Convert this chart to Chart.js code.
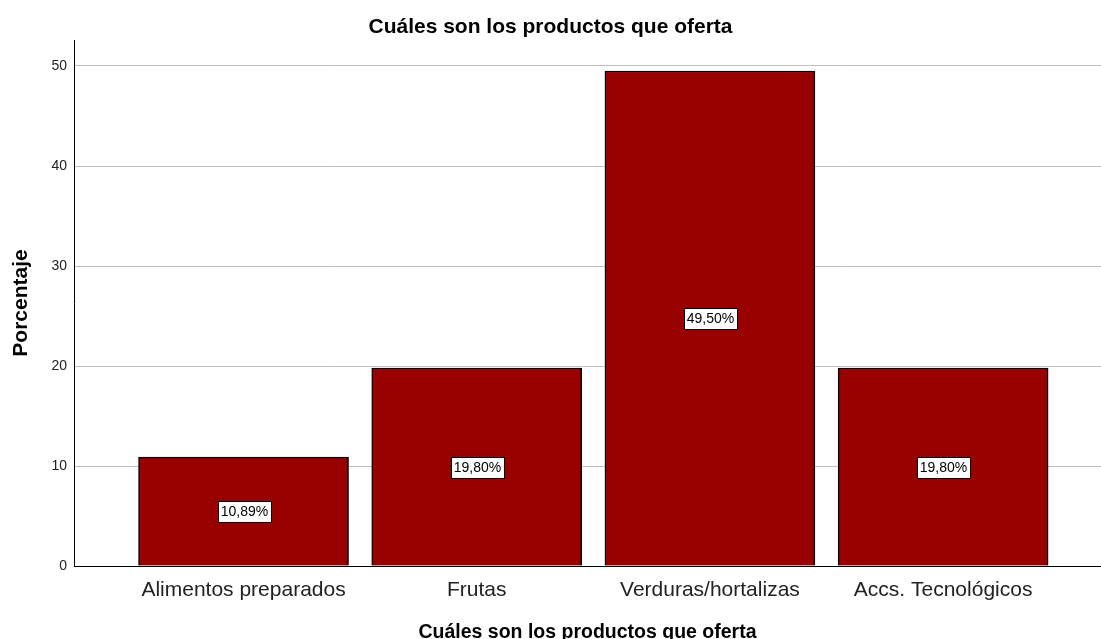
<!DOCTYPE html>
<html>
<head>
<meta charset="utf-8">
<title>Cuáles son los productos que oferta</title>
<script src="https://cdn.jsdelivr.net/npm/chart.js@4.4.1/dist/chart.umd.min.js"></script>
<style>
  body { margin: 0; background: #fff; }
  #wrap { width: 1101px; height: 639px; }
</style>
</head>
<body>
<div id="wrap"><canvas id="chart" width="1101" height="639"></canvas></div>
<script>
const categories = ['Alimentos preparados', 'Frutas', 'Verduras/hortalizas', 'Accs. Tecnológicos'];
const percentages = [10.89, 19.80, 49.50, 19.80];
const yTicks = [0, 10, 20, 30, 40, 50];
const titleText = 'Cuáles son los productos que oferta';
const yTitle = 'Porcentaje';

const FONT = "'Liberation Sans', Arial, sans-serif";

// Draw the "10,89%" boxes in the middle of each bar
const barLabels = {
  id: 'barLabels',
  afterDatasetsDraw(chart) {
    const ctx = chart.ctx;
    const meta = chart.getDatasetMeta(0);
    ctx.save();
    ctx.font = '14px ' + FONT;
    ctx.textAlign = 'center';
    ctx.textBaseline = 'middle';
    meta.data.forEach((bar, i) => {
      const text = percentages[i].toFixed(2).replace('.', ',') + '%';
      const w = Math.round(ctx.measureText(text).width + 6);
      const h = 21;
      const cx = Math.round(bar.x);
      const cy = Math.round((bar.y + bar.base) / 2);
      const left = Math.round(cx - w / 2);
      const top = Math.round(cy - h / 2);
      ctx.fillStyle = '#ffffff';
      ctx.fillRect(left, top, w, h);
      ctx.strokeStyle = '#000000';
      ctx.lineWidth = 1;
      ctx.strokeRect(left + 0.5, top + 0.5, w, h);
      ctx.fillStyle = '#000000';
      ctx.fillText(text, cx + 0.5, cy + 1);
    });
    ctx.restore();
  }
};

new Chart(document.getElementById('chart'), {
  type: 'bar',
  data: {
    datasets: [{
      data: percentages.map((v, i) => ({ x: i, y: v })),
      backgroundColor: '#990000',
      borderColor: '#000000',
      borderWidth: 1.5,
      barThickness: 210
    }]
  },
  options: {
    responsive: false,
    animation: false,
    layout: { padding: 0 },
    plugins: {
      legend: { display: false },
      tooltip: { enabled: false },
      title: {
        display: true,
        text: titleText,
        color: '#000000',
        font: { family: FONT, size: 21, weight: 'bold' },
        padding: { top: 14.5, bottom: 0.3 }
      }
    },
    scales: {
      x: {
        type: 'linear',
        offset: false,
        min: -0.727,
        max: 3.677,
        afterBuildTicks: scale => {
          scale.ticks = categories.map((c, i) => ({ value: i }));
        },
        afterFit: scale => { scale.height = 73; },
        grid: { display: false },
        border: { display: true, color: '#000000', width: 1 },
        ticks: {
          autoSkip: false,
          maxRotation: 0,
          padding: 4,
          color: '#222222',
          font: { family: FONT, size: 21 },
          callback: value => categories[value]
        },
        title: {
          display: true,
          text: titleText,
          color: '#000000',
          font: { family: FONT, size: 19.5, weight: 'bold' },
          padding: { top: 0, bottom: -5 }
        }
      },
      y: {
        min: 0,
        max: 52.6,
        afterBuildTicks: scale => {
          scale.ticks = yTicks.map(v => ({ value: v }));
        },
        afterFit: scale => { scale.width = 74; },
        grid: { color: '#c0c0c0', lineWidth: 1, drawTicks: false },
        border: { display: true, color: '#000000', width: 1 },
        ticks: {
          padding: 7,
          color: '#222222',
          font: { family: FONT, size: 14 }
        },
        title: {
          display: true,
          text: yTitle,
          color: '#000000',
          font: { family: FONT, size: 21, weight: 'bold' },
          padding: { top: 9, bottom: 0 }
        }
      }
    }
  },
  plugins: [barLabels]
});
</script>
</body>
</html>
